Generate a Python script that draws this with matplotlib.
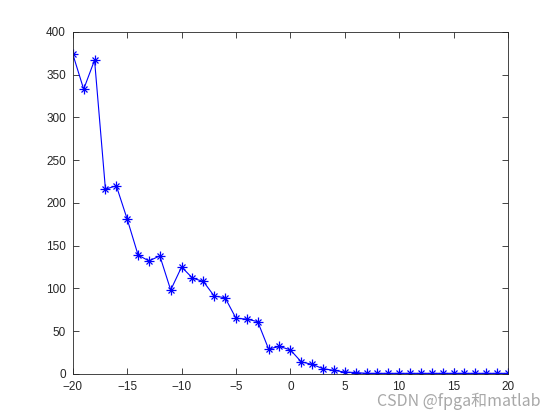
import matplotlib
matplotlib.use("Agg")
import matplotlib.pyplot as plt

# data
snr = list(range(-20, 21))
counts = [374, 333, 367, 216, 220, 181, 139, 132, 138, 98,
          125, 112, 108, 91, 89, 65, 64, 61, 29, 32,
          28, 14, 11, 6, 4, 2, 1.5, 0.5, 0.5, 0.5,
          0.5, 0.5, 0.5, 0.5, 0.5, 0.5, 0.5, 0.5, 0.5, 0.5, 0.5]
xticks = [-20, -15, -10, -5, 0, 5, 10, 15, 20]
yticks = [0, 50, 100, 150, 200, 250, 300, 350, 400]

plt.rcParams["font.family"] = ["Liberation Sans", "DejaVu Sans"]

fig = plt.figure(figsize=(5.6, 4.2), dpi=100)
ax = fig.add_axes([0.13, 0.11, 0.777, 0.814])
# matlab '*' marker = '+' and 'x' on top of each other
ax.plot(snr, counts, color="#0000ff", lw=0.8, marker="+", ms=6.5,
        markeredgewidth=0.9)
ax.plot(snr, counts, color="#0000ff", lw=0, marker="x", ms=5,
        markeredgewidth=0.9)
ax.set_xlim(-20, 20)
ax.set_ylim(0, 400)
ax.set_xticks(xticks)
ax.set_yticks(yticks)
ax.tick_params(direction="in", length=4, width=0.6, labelsize=8.5,
               top=True, right=True, colors="#262626")
ax.tick_params(axis="x", pad=5)
ax.tick_params(axis="y", pad=5)
for s in ax.spines.values():
    s.set_linewidth(0.6)
    s.set_color("#262626")

fig.text(0.965, 0.025, "CSDN @fpga和matlab", ha="right", va="bottom",
         fontsize=11.5, color="#a8a8a8",
         family=["Noto Sans CJK SC", "DejaVu Sans"])

fig.savefig("out.png", dpi=100)
